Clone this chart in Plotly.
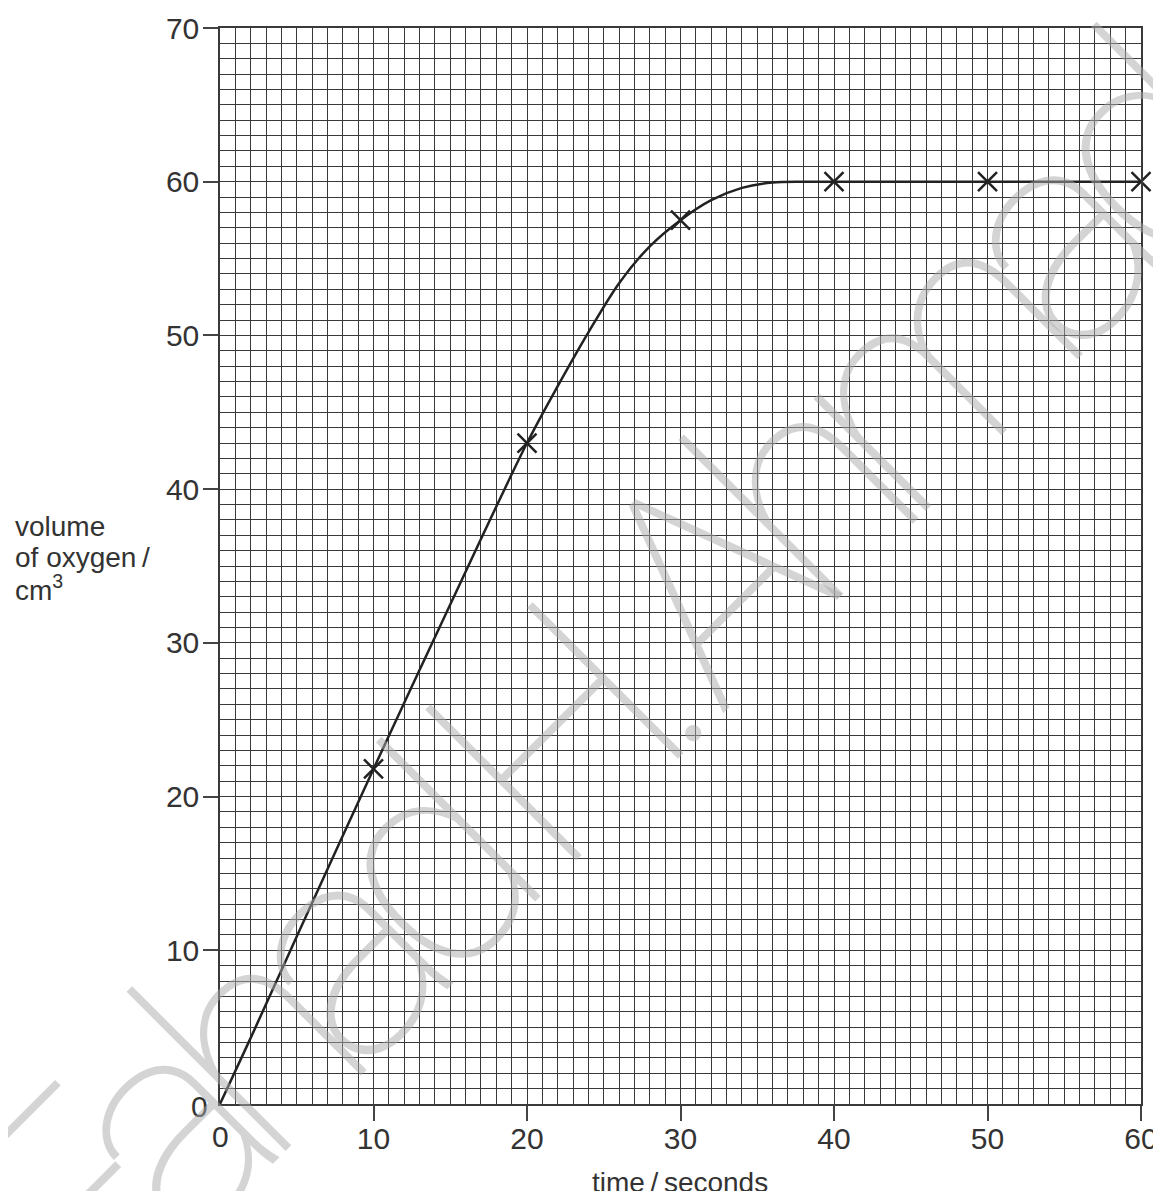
import plotly.graph_objects as go

# measured points (crosses)
time_s = [10, 20, 30, 40, 50, 60]
oxygen_cm3 = [21.8, 43.0, 57.5, 60.0, 60.0, 60.0]

# drawn best-fit curve
curve_time = [0, 2, 5, 10, 15, 20, 22, 24, 26, 28, 30, 32, 34, 36, 38, 40, 50, 60]
curve_oxygen = [0, 4.3, 10.9, 21.8, 32.5, 43.0, 46.7, 50.2, 53.4, 55.8, 57.5, 58.8, 59.6, 59.95, 60.0, 60.0, 60.0, 60.0]

x_ticks = [10, 20, 30, 40, 50, 60]
y_ticks = [10, 20, 30, 40, 50, 60, 70]

FONT = "Liberation Sans, Arial, Helvetica, sans-serif"
INK = "#222222"
GRID = "#3a3a3a"

fig = go.Figure()

fig.add_trace(go.Scatter(
    x=curve_time, y=curve_oxygen, mode="lines",
    line=dict(color=INK, width=2.5, shape="spline", smoothing=0.9),
    hoverinfo="skip", showlegend=False
))

fig.add_trace(go.Scatter(
    x=time_s, y=oxygen_cm3, mode="markers",
    marker=dict(symbol="x-thin-open", size=19, color=INK, line=dict(color=INK, width=2.5)),
    showlegend=False, cliponaxis=False
))

axis_common = dict(
    automargin=False,
    showgrid=True, gridcolor=GRID, gridwidth=1.4,
    zeroline=False, showline=True, linecolor=GRID, linewidth=1.5, mirror=True,
    ticks="outside", ticklen=15, tickwidth=1.5, tickcolor="#444444",
    ticklabeloverflow="allow",
    tickfont=dict(family=FONT, size=30, color="#333333"),
    minor=dict(dtick=1, tick0=0, showgrid=True, gridcolor=GRID, gridwidth=1.4, ticks=""),
)

fig.update_xaxes(range=[0, 60], tickmode="array", tickvals=x_ticks, ticklabelstandoff=-8, **axis_common)
fig.update_yaxes(range=[0, 70], tickmode="array", tickvals=y_ticks, ticklabelstandoff=-2, **axis_common)

txt = dict(family=FONT, size=28, color="#333333")
num = dict(family=FONT, size=30, color="#333333")
annotations = [
    # zero labels sit without tick marks
    dict(text="0", x=-0.011, y=-0.002, xanchor="right", yanchor="middle", font=num),
    dict(text="0", x=0.0, y=-0.030, xanchor="center", yanchor="middle", font=num),
    # axis titles
    dict(text="time\u2009/\u2009seconds", x=0.4995, y=-0.0725, xanchor="center", yanchor="middle", font=txt),
    dict(text="volume", x=-0.225, y=0.537, xanchor="left", yanchor="middle", font=txt),
    dict(text="of oxygen\u2009/", x=-0.225, y=0.508, xanchor="left", yanchor="middle", font=txt),
    dict(text="cm<sup>3</sup>", x=-0.225, y=0.480, xanchor="left", yanchor="middle", font=txt),
    # watermark across the page
    dict(text='<span style="letter-spacing:-38px">Fahad H. Ahmad</span>',
         x=0.415, y=0.385, xanchor="center", yanchor="middle",
         textangle=-45, font=dict(family="Roboto, sans-serif", size=300, weight=100,
                                  color="rgba(170,170,170,0.5)")),
]
for a in annotations:
    a.update(xref="paper", yref="paper", showarrow=False)

# the page body adds an 8px margin, so the figure is shrunk and margins shifted
fig.update_layout(
    width=1153, height=1183,
    margin=dict(l=212, r=20, t=20, b=87),
    paper_bgcolor="white", plot_bgcolor="white",
    font=dict(family=FONT, color="#333333"),
    annotations=annotations,
)

fig.write_html("out.html")
